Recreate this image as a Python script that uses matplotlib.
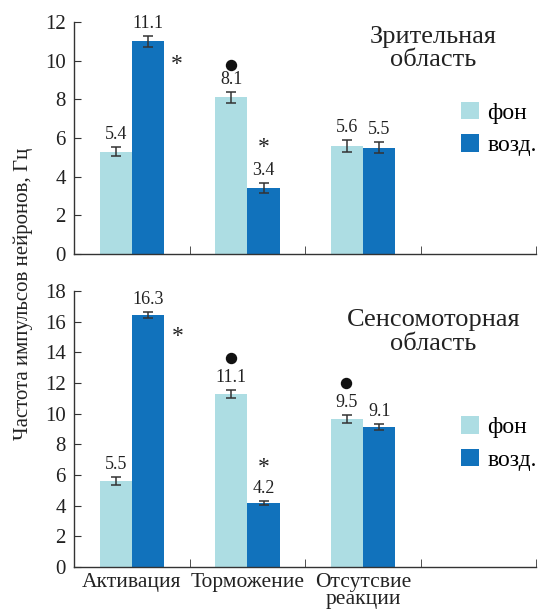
import matplotlib
matplotlib.use("Agg")
import matplotlib.pyplot as plt
import numpy as np

plt.rcParams["font.family"] = ["Liberation Serif", "DejaVu Serif"]

# data
categories = ["Активация", "Торможение", "Отсутсвие\nреакции"]
series_names = ["фон", "возд."]

vis_bg = [5.3, 8.1, 5.6]
vis_bg_err = [0.22, 0.26, 0.3]
vis_bg_lbl = ["5.4", "8.1", "5.6"]
vis_ex = [11.0, 3.4, 5.5]
vis_ex_err = [0.28, 0.25, 0.29]
vis_ex_lbl = ["11.1", "3.4", "5.5"]

sm_bg = [5.6, 11.28, 9.65]
sm_bg_err = [0.28, 0.23, 0.28]
sm_bg_lbl = ["5.5", "11.1", "9.5"]
sm_ex = [16.43, 4.17, 9.13]
sm_ex_err = [0.2, 0.15, 0.2]
sm_ex_lbl = ["16.3", "4.2", "9.1"]

# significance marks: (x, y)
vis_stars = [(0.89, 9.8), (1.64, 5.5)]
vis_dots = [(1.36, 9.8)]
sm_stars = [(0.9, 15.0), (1.64, 6.5)]
sm_dots = [(1.36, 13.6), (2.35, 12.0)]

LIGHT = "#addde3"
DARK = "#1172bc"
TXT = "#222222"
W = 0.28


def draw_panel(ax, bg, bg_err, bg_lbl, ex, ex_err, ex_lbl, ymax, title, title_y,
               stars, dots, leg_y, last):
    x = np.arange(len(bg)) + 0.5
    ax.bar(x - W / 2, bg, W, color=LIGHT, label=series_names[0])
    ax.bar(x + W / 2, ex, W, color=DARK, label=series_names[1])
    for xs, vals, errs in ((x - W / 2, bg, bg_err), (x + W / 2, ex, ex_err)):
        ax.errorbar(xs, vals, yerr=errs, fmt="none", ecolor="#333333",
                    elinewidth=1.1, capsize=3.5, capthick=1.1)
    for xs, vals, errs, lbls in ((x - W / 2, bg, bg_err, bg_lbl),
                                 (x + W / 2, ex, ex_err, ex_lbl)):
        for xi, v, e, s in zip(xs, vals, errs, lbls):
            ax.annotate(s, (xi, v + e), xytext=(0, 3), textcoords="offset points",
                        ha="center", va="bottom", fontsize=13, color=TXT)
    for sx, sy in stars:
        ax.text(sx, sy, "*", ha="center", va="center", fontsize=17, color=TXT)
    for dx, dy in dots:
        ax.plot(dx, dy, "o", color="#111111", markersize=7.2)

    ax.set_xlim(0, 4)
    ax.set_ylim(0, ymax)
    ax.set_yticks(np.arange(0, ymax + 1, 2))
    ax.spines["top"].set_visible(False)
    ax.spines["right"].set_visible(False)
    for sp in ("left", "bottom"):
        ax.spines[sp].set_color("#333333")
        ax.spines[sp].set_linewidth(1.0)
    ax.tick_params(axis="y", direction="in", length=5, labelsize=15, pad=6,
                   colors="#333333", labelcolor=TXT)
    ax.set_xticks([1, 2, 3, 4], minor=True)
    ax.tick_params(axis="x", which="minor", direction="in", length=6, color="#333333")
    ax.set_xticks(x)
    if last:
        ax.set_xticklabels(categories, fontsize=15.5, color=TXT, linespacing=0.9)
    else:
        ax.set_xticklabels([])
    ax.tick_params(axis="x", which="major", length=0, pad=4)

    ax.text(3.11, title_y, title, ha="center", va="center", fontsize=19,
            color=TXT, linespacing=1.1)
    ax.legend(loc="center left", bbox_to_anchor=(0.838, leg_y), frameon=False,
              fontsize=17, handlelength=0.75, handleheight=0.75, handletextpad=0.35,
              labelspacing=0.45, borderaxespad=0, borderpad=0)


fig = plt.figure(figsize=(5.45, 6.15), dpi=100)
ax1 = fig.add_axes([0.136, 0.587, 0.848, 0.377])
ax2 = fig.add_axes([0.136, 0.078, 0.848, 0.449])

draw_panel(ax1, vis_bg, vis_bg_err, vis_bg_lbl, vis_ex, vis_ex_err, vis_ex_lbl,
           12, "Зрительная\nобласть", 10.63, vis_stars, vis_dots, 0.539, False)
draw_panel(ax2, sm_bg, sm_bg_err, sm_bg_lbl, sm_ex, sm_ex_err, sm_ex_lbl,
           18, "Сенсомоторная\nобласть", 15.33, sm_stars, sm_dots, 0.447, True)

fig.text(0.042, 0.522, "Частота импульсов нейронов, Гц", rotation=90,
         ha="center", va="center", fontsize=15, color=TXT)

fig.savefig("out.png", dpi=100)
